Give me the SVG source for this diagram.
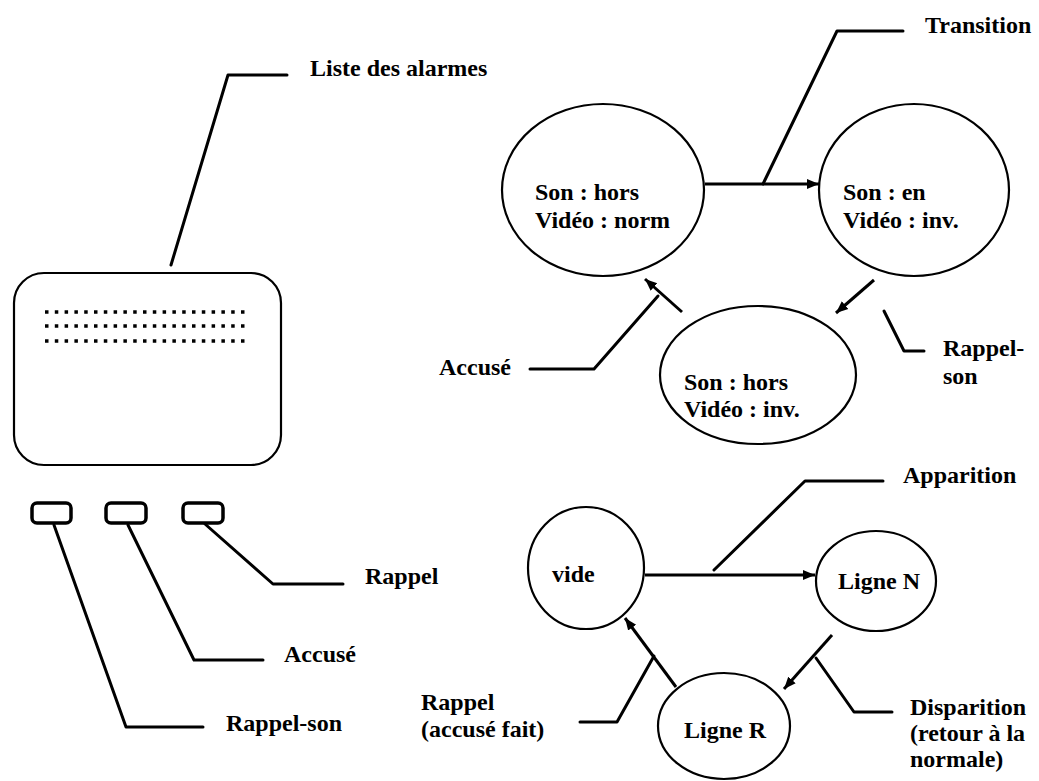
<svg xmlns="http://www.w3.org/2000/svg" width="1039" height="781" viewBox="0 0 1039 781">
<defs>
<style>
text{font-family:"Liberation Serif","Times New Roman",serif;font-weight:bold;font-size:24px;fill:#000}
.ln{fill:none;stroke:#000;stroke-width:3;stroke-linecap:round;stroke-linejoin:round}
.shape{fill:#fff;stroke:#000;stroke-width:2.2}
.btn{fill:#fff;stroke:#000;stroke-width:3.5}
.dots{stroke:#000;stroke-width:3.5;stroke-dasharray:3.5 6.3;fill:none}
.arr{fill:none;stroke:#000;stroke-width:3;marker-end:url(#ah)}
</style>
<marker id="ah" markerUnits="userSpaceOnUse" markerWidth="14" markerHeight="12" refX="12" refY="6" orient="auto">
<path d="M0,1 L12,6 L0,11 Z" fill="#000"/>
</marker>
</defs>

<g id="screen">
<rect class="shape" x="14" y="273" width="267" height="192" rx="30"/>
<line class="dots" x1="45" y1="312" x2="250" y2="312"/>
<line class="dots" x1="45" y1="326" x2="248" y2="326"/>
<line class="dots" x1="45" y1="341" x2="248" y2="341"/>
</g>
<g id="btn-rappel-son"><rect class="btn" x="32" y="503" width="39" height="20" rx="5"/></g>
<g id="btn-accuse"><rect class="btn" x="106" y="503" width="40" height="20" rx="5"/></g>
<g id="btn-rappel"><rect class="btn" x="183" y="503" width="40" height="20" rx="5"/></g>

<g id="state-son-hors-norm">
<ellipse class="shape" cx="603" cy="190" rx="101" ry="86"/>
<text x="535" y="200">Son : hors</text>
<text x="535" y="228">Vidéo : norm</text>
</g>
<g id="state-son-en-inv">
<ellipse class="shape" cx="914" cy="190" rx="95" ry="86"/>
<text x="843" y="200">Son : en</text>
<text x="843" y="228">Vidéo : inv.</text>
</g>
<g id="state-son-hors-inv">
<ellipse class="shape" cx="758" cy="375" rx="98" ry="69"/>
<text x="684" y="390">Son : hors</text>
<text x="684" y="417">Vidéo : inv.</text>
</g>

<g id="state-vide">
<ellipse class="shape" cx="586" cy="568" rx="58" ry="61"/>
<text x="552" y="582">vide</text>
</g>
<g id="state-ligne-n">
<ellipse class="shape" cx="876" cy="581" rx="60" ry="50"/>
<text x="838" y="589">Ligne N</text>
</g>
<g id="state-ligne-r">
<ellipse class="shape" cx="724" cy="726" rx="66" ry="53"/>
<text x="684" y="738">Ligne R</text>
</g>

<g id="connectors">
<polyline class="ln" points="171,265 228,75 287,75"/>
<polyline class="ln" points="54,525 126,727 203,727"/>
<polyline class="ln" points="128,525 194,660 263,660"/>
<polyline class="ln" points="205,524 273,584 343,584"/>

<line class="arr" x1="705" y1="184" x2="819" y2="184"/>
<polyline class="ln" points="763,184 837,31 903,31"/>
<line class="arr" x1="874" y1="280" x2="836" y2="313"/>
<polyline class="ln" points="884,311 904,351 924,351"/>
<line class="arr" x1="682" y1="312" x2="645" y2="279"/>
<polyline class="ln" points="658,296 594,369 530,369"/>

<line class="arr" x1="645" y1="575" x2="815" y2="575"/>
<polyline class="ln" points="714,570 805,481 883,481"/>
<line class="arr" x1="832" y1="635" x2="784" y2="689"/>
<polyline class="ln" points="816,658 854,712 892,712"/>
<line class="arr" x1="676" y1="687" x2="625" y2="618"/>
<polyline class="ln" points="654,656 617,722 580,722"/>
</g>

<g id="labels">
<text x="310" y="76">Liste des alarmes</text>
<text x="226" y="731">Rappel-son</text>
<text x="284" y="662">Accusé</text>
<text x="365" y="584">Rappel</text>
<text x="925" y="33">Transition</text>
<text x="943" y="356">Rappel-</text>
<text x="943" y="384">son</text>
<text x="439" y="375">Accusé</text>
<text x="903" y="483">Apparition</text>
<text x="910" y="715">Disparition</text>
<text x="910" y="741">(retour à la</text>
<text x="910" y="767">normale)</text>
<text x="421" y="710">Rappel</text>
<text x="421" y="737">(accusé fait)</text>
</g>
</svg>
